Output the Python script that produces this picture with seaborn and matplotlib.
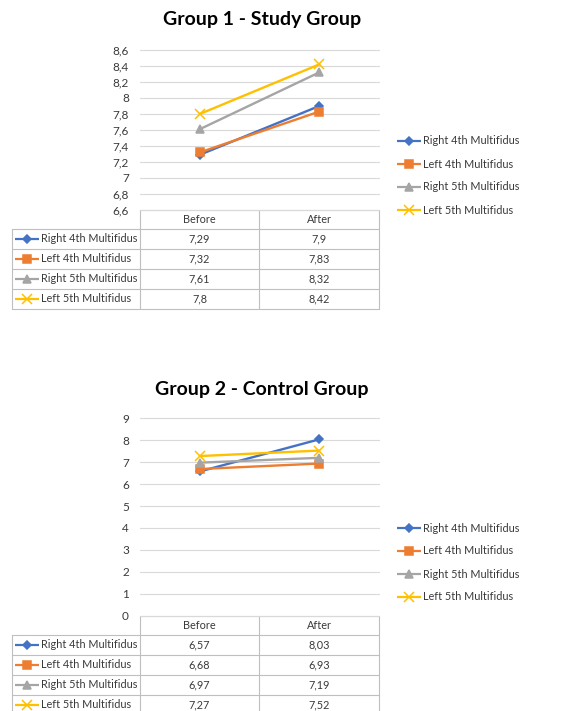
import numpy as np
import pandas as pd
import matplotlib
matplotlib.use("Agg")
import matplotlib.pyplot as plt
import seaborn as sns
from matplotlib.ticker import FuncFormatter

# data
categories = ["Before", "After"]
series = ["Right 4th Multifidus", "Left 4th Multifidus",
          "Right 5th Multifidus", "Left 5th Multifidus"]
group1_before = [7.29, 7.32, 7.61, 7.8]
group1_after = [7.9, 7.83, 8.32, 8.42]
group2_before = [6.57, 6.68, 6.97, 7.27]
group2_after = [8.03, 6.93, 7.19, 7.52]

colors = ["#4472C4", "#ED7D31", "#A5A5A5", "#FFC000"]
markers = ["D", "s", "^", "x"]
msizes = [4.5, 6, 5.5, 6.5]

sns.set_theme(style="white")
plt.rcParams['font.family'] = ['Lato', 'DejaVu Sans']

W, H = 561, 711
fig = plt.figure(figsize=(W / 100, H / 100), dpi=100)

# overlay axes in pixel coords for the table + legends
over = fig.add_axes([0, 0, 1, 1])
over.set_xlim(0, W)
over.set_ylim(H, 0)
over.axis("off")

txt = "#3A3A3A"
border = "#BFBFBF"
fs = 7.8


def fmt(v):
    return f"{v:g}".replace(".", ",")


def key(x0, y, i, length=24):
    over.plot([x0, x0 + length], [y, y], color=colors[i], lw=1.6,
              solid_capstyle="butt")
    over.plot([x0 + length / 2], [y], marker=markers[i], color=colors[i],
              markeredgecolor=colors[i], markersize=msizes[i], mew=1.1)


def draw_group(title, title_y, before, after, ymin, ymax, step,
               plot_top, plot_bottom, row_h, legend_ys):
    ax = fig.add_axes([140 / W, 1 - plot_bottom / H, 239 / W,
                       (plot_bottom - plot_top) / H])
    ax.set_facecolor("none")
    for i, name in enumerate(series):
        df = pd.DataFrame({"phase": categories,
                           "value": [before[i], after[i]]})
        sns.lineplot(data=df, x="phase", y="value", ax=ax, color=colors[i],
                     marker=markers[i], markersize=msizes[i],
                     markeredgecolor=colors[i], mew=1.1, linewidth=1.7,
                     sort=False, zorder=3 + i)
    ax.set_xlim(-0.5, 1.5)
    ax.set_ylim(ymin, ymax)
    ax.set_yticks(np.arange(ymin, ymax + step / 2, step))
    ax.yaxis.set_major_formatter(FuncFormatter(lambda v, _: fmt(round(v, 2))))
    ax.set_xticks([])
    ax.set_xlabel("")
    ax.set_ylabel("")
    ax.tick_params(axis="y", length=0, pad=8, labelsize=8.5, labelcolor=txt)
    ax.yaxis.grid(True, color="#D9D9D9", lw=0.8)
    for gl in ax.get_ygridlines():
        gl.set_clip_on(False)
    for s in ax.spines.values():
        s.set_visible(False)

    fig.text(262 / W, 1 - title_y / H, title, ha="center", va="center",
             fontsize=14, fontweight="bold", color="black")

    # data table under the plot
    y0 = plot_bottom
    hdr = row_h - 1
    over.plot([140, 379], [y0, y0], color=border, lw=0.8)
    rows_top = y0 + hdr
    for c, label in zip([199.5, 319], categories):
        over.text(c, y0 + hdr / 2, label, ha="center", va="center",
                  fontsize=fs, color=txt)
    for r in range(len(series) + 1):
        yy = rows_top + r * row_h
        over.plot([12, 379], [yy, yy], color=border, lw=0.8)
    yb = rows_top + len(series) * row_h
    over.plot([12, 12], [rows_top, yb], color=border, lw=0.8)
    for xx in [140, 259, 379]:
        over.plot([xx, xx], [y0, yb], color=border, lw=0.8)
    for i, name in enumerate(series):
        yc = rows_top + (i + 0.5) * row_h
        key(15, yc, i)
        over.text(41, yc, name, ha="left", va="center", fontsize=fs, color=txt)
        over.text(199.5, yc, fmt(before[i]), ha="center", va="center",
                  fontsize=fs, color=txt)
        over.text(319, yc, fmt(after[i]), ha="center", va="center",
                  fontsize=fs, color=txt)

    # legend on the right
    for i, name in enumerate(series):
        key(397, legend_ys[i], i)
        over.text(423, legend_ys[i], name, ha="left", va="center",
                  fontsize=fs, color=txt)


draw_group("Group 1 - Study Group", 20, group1_before, group1_after,
           6.6, 8.6, 0.2, 50, 210, 20, [141, 164, 187, 210])
draw_group("Group 2 - Control Group", 389, group2_before, group2_after,
           0, 9, 1, 418, 616, 20, [528, 551, 574, 597])

fig.savefig("out.png", dpi=100)
